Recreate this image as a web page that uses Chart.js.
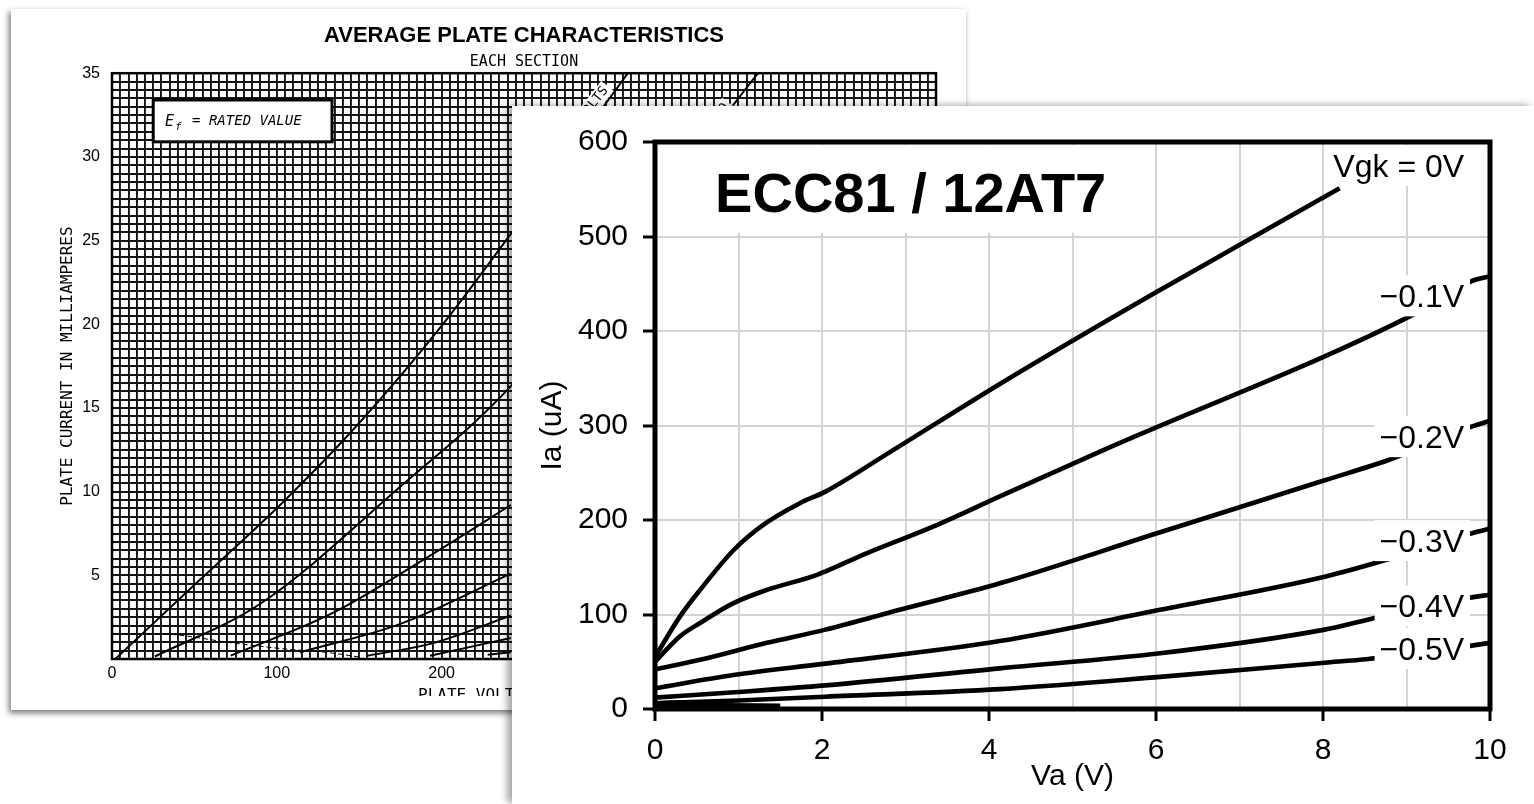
<!DOCTYPE html>
<html><head><meta charset="utf-8">
<script src="https://cdn.jsdelivr.net/npm/chart.js@4.4.1/dist/chart.umd.min.js"></script>
<style>
html,body{margin:0;padding:0;background:#fff;width:1534px;height:804px;overflow:hidden;}
#bgCard{position:absolute;left:11px;top:9px;width:955px;height:701px;background:#fff;box-shadow:-2px 3px 6px rgba(0,0,0,0.55);}
#fgCard{position:absolute;left:512px;top:106px;width:1022px;height:698px;background:#fff;box-shadow:-5px -1px 7px rgba(0,0,0,0.35);}
canvas{display:block;}
</style></head><body>
<div id="bgCard"><canvas id="bg" width="955" height="701"></canvas></div>
<div id="fgCard"><canvas id="fg" width="1022" height="698"></canvas></div>
<script>
// ---------- background datasheet: plate volts (V) vs plate current (mA) ----------
const bgTitle = 'AVERAGE PLATE CHARACTERISTICS';
const bgSubtitle = 'EACH SECTION';
const bgXTitle = 'PLATE VOLTAGE IN VOLTS';
const bgYTitle = 'PLATE CURRENT IN MILLIAMPERES';
const bgNote = '= RATED VALUE';
const bgCurveLabels = ['Ec1 = 0 VOLTS', '-1.0'];
const bgC0V = [2, 53, 104, 150, 200, 242, 313];
const bgC0I = [0, 4.7, 9.4, 14.1, 19.9, 25.4, 35];
const bgC1V = [26, 90, 175, 242, 392];
const bgC1I = [0.15, 3.3, 10.3, 16.3, 35];
const bgC2V = [72, 134, 195, 242];
const bgC2I = [0.2, 2.75, 6.3, 9.2];
const bgC3V = [114, 175, 242];
const bgC3I = [0.4, 2.1, 5.1];
const bgC4V = [155, 195, 242];
const bgC4I = [0.2, 0.95, 2.6];
const bgC5V = [193, 242];
const bgC5I = [0.2, 1.25];
const bgC6V = [228, 242];
const bgC6I = [0.25, 0.4];
const bgGcV = [2, 28, 74, 100, 134, 151];
const bgGcI = [1.5, 1.5, 0.95, 0.65, 0.35, 0.1];

// ---------- foreground: ECC81 / 12AT7, Va (V) vs Ia (uA) ----------
const fgTitle = 'ECC81 / 12AT7';
const fgLabels = ['Vgk = 0V', '\u22120.1V', '\u22120.2V', '\u22120.3V', '\u22120.4V', '\u22120.5V'];
const va0 = [0, 0.3, 0.54, 0.94, 1.3, 1.74, 2.04, 2.78, 4.13, 6, 7.04, 8.2];
const ia0 = [55, 98, 126, 168, 195, 218, 230, 270, 344, 441, 493, 551];
const va1 = [0, 0.3, 0.54, 0.94, 1.34, 1.94, 2.54, 3.33, 4.13, 5.37, 9.14, 9.76, 10];
const ia1 = [50, 77, 91, 112, 126, 142, 165, 193, 225, 274, 420, 452, 458];
const va2 = [0, 0.54, 1.34, 2.04, 2.93, 4.13, 6.05, 8.02, 8.8, 9.72, 10];
const ia2 = [42, 52, 70, 84, 105, 133, 187, 242, 264, 297, 305];
const va3 = [0, 0.94, 2.04, 4.13, 6.05, 8.02, 8.8, 9.7, 10];
const ia3 = [22, 36, 48, 72, 105, 140, 159, 184, 191];
const va4 = [0, 1, 2.04, 4.13, 6.05, 8.02, 8.56, 9.7, 10];
const ia4 = [12, 18, 25, 43, 59, 84, 95, 117, 121];
const va5 = [0, 1, 2.04, 4.13, 6.05, 8.02, 8.54, 9.7, 10];
const ia5 = [6, 9, 13, 21, 34, 49, 53, 66, 70];
const vaCut = [0, 0.4, 0.8, 1.5];
const iaCut = [3, 4, 4, 3.5];
const vaCut2 = [0, 0.3, 0.7];
const iaCut2 = [6, 7, 6];
const yTicksUA = [0, 100, 200, 300, 400, 500, 600];
const xTicksV = [0, 2, 4, 6, 8, 10];

Chart.defaults.font.family = "'Liberation Sans', Arial, sans-serif";
Chart.defaults.color = '#000';

function pts(xs, ys) { return xs.map((v, i) => ({x: v, y: ys[i]})); }

// ================= background chart =================
const bgLine = (xs, ys, w, dash) => ({
  data: pts(xs, ys), borderColor: '#000', borderWidth: w, borderDash: dash || [],
  pointRadius: 0, cubicInterpolationMode: 'monotone', fill: false
});
const MONO = "'DejaVu Sans Mono', monospace";

const bgDecor = {
  id: 'bgDecor',
  afterDatasetsDraw(chart) {
    const {ctx, chartArea: a, scales: {x, y}} = chart;
    ctx.save();
    ctx.strokeStyle = '#000'; ctx.lineWidth = 2.5;
    ctx.strokeRect(a.left, a.top, a.right - a.left, a.bottom - a.top);
    const x0 = x.getPixelForValue(25), x1 = x.getPixelForValue(133.5);
    const y0 = y.getPixelForValue(33.4), y1 = y.getPixelForValue(30.9);
    ctx.fillStyle = '#fff'; ctx.fillRect(x0, y0, x1 - x0, y1 - y0);
    ctx.lineWidth = 3; ctx.strokeRect(x0, y0, x1 - x0, y1 - y0);
    ctx.fillStyle = '#000';
    ctx.font = 'italic 15px ' + MONO;
    ctx.textBaseline = 'alphabetic'; ctx.textAlign = 'left';
    const tx = x.getPixelForValue(32.2), ty = y.getPixelForValue(31.85);
    ctx.fillText('E', tx, ty);
    ctx.font = 'italic 11px ' + MONO;
    ctx.fillText('f', tx + 10, ty + 4);
    ctx.font = 'italic 14px ' + MONO;
    ctx.fillText(bgNote, tx + 27, ty - 1);
    const anchors = [[299.5, 34.1], [373, 33.1]];
    ctx.font = '13px ' + MONO;
    anchors.forEach((p, i) => {
      ctx.save();
      ctx.translate(x.getPixelForValue(p[0]), y.getPixelForValue(p[1]));
      ctx.rotate(-52 * Math.PI / 180);
      const w = ctx.measureText(bgCurveLabels[i]).width;
      ctx.fillStyle = '#fff'; ctx.fillRect(-w - 3, -8, w + 6, 16);
      ctx.fillStyle = '#000'; ctx.textAlign = 'right'; ctx.textBaseline = 'middle';
      ctx.fillText(bgCurveLabels[i], 0, 0);
      ctx.restore();
    });
    ctx.restore();
  },
  afterDraw(chart) {
    const {ctx, width, height} = chart;
    ctx.save();
    ctx.fillStyle = '#fff';
    ctx.fillRect(0, 687, width, height - 687);
    ctx.restore();
  }
};

new Chart(document.getElementById('bg'), {
  type: 'line',
  data: { datasets: [
    bgLine(bgC0V, bgC0I, 2), bgLine(bgC1V, bgC1I, 2), bgLine(bgC2V, bgC2I, 2),
    bgLine(bgC3V, bgC3I, 2), bgLine(bgC4V, bgC4I, 2), bgLine(bgC5V, bgC5I, 2),
    bgLine(bgC6V, bgC6I, 2), bgLine(bgGcV, bgGcI, 1, [5, 3])
  ]},
  options: {
    responsive: false, animation: false, events: [],
    layout: { padding: { top: 0, right: 30, left: 0, bottom: 0 } },
    plugins: {
      legend: { display: false }, tooltip: { enabled: false },
      title: { display: true, text: bgTitle, fullSize: false, color: '#000',
        font: { family: "'Liberation Sans', Arial, sans-serif", size: 22, weight: 'bold' },
        padding: { top: 13.8, bottom: 0 } },
      subtitle: { display: true, text: bgSubtitle, fullSize: false, color: '#000',
        font: { family: MONO, size: 15 }, padding: { top: 4.4, bottom: 1.6 } }
    },
    scales: {
      x: { type: 'linear', min: 0, max: 500,
        ticks: { stepSize: 5, autoSkip: false, maxRotation: 0, padding: 5,
          font: { size: 16 }, callback: v => (v % 100 === 0 ? String(v) : '') },
        grid: { color: '#141414', lineWidth: 1.9, drawTicks: false },
        border: { display: false },
        title: { display: true, text: bgXTitle, font: { family: MONO, size: 16 }, padding: { top: 0, bottom: 5 } },
        afterFit: s => { s.height = 51; } },
      y: { type: 'linear', min: 0, max: 35,
        ticks: { stepSize: 0.5, autoSkip: false, padding: 12, font: { size: 16 },
          callback: v => (v % 5 === 0 && v !== 0 ? String(v) : '') },
        grid: { color: '#141414', lineWidth: 1.9, drawTicks: false },
        border: { display: false },
        title: { display: true, text: bgYTitle, font: { family: MONO, size: 16 }, padding: { top: 47, bottom: 0 } },
        afterFit: s => { s.width = 101; } }
    }
  },
  plugins: [bgDecor]
});

// ================= foreground chart =================
const fgLine = (xs, ys) => ({
  data: pts(xs, ys), borderColor: '#000', borderWidth: 4.6,
  pointRadius: 0, cubicInterpolationMode: 'monotone', fill: false
});
const labelIa = [563, 425, 276, 166, 97, 52];

const fgDecor = {
  id: 'fgDecor',
  beforeDatasetsDraw(chart) {
    const {ctx, chartArea: a, scales: {x, y}} = chart;
    ctx.save();
    const bx = x.getPixelForValue(5.5), by = y.getPixelForValue(504);
    ctx.fillStyle = '#fff';
    ctx.fillRect(a.left + 3, a.top + 3, bx - a.left - 3, by - a.top - 3);
    ctx.fillStyle = '#000';
    ctx.font = "bold 56px 'Liberation Sans', Arial, sans-serif";
    ctx.textAlign = 'left'; ctx.textBaseline = 'alphabetic';
    ctx.fillText(fgTitle, x.getPixelForValue(0.72), y.getPixelForValue(526));
    ctx.restore();
  },
  afterDatasetsDraw(chart) {
    const {ctx, chartArea: a, scales: {x, y}} = chart;
    ctx.save();
    ctx.font = "32px 'Liberation Sans', Arial, sans-serif";
    ctx.textAlign = 'right'; ctx.textBaseline = 'alphabetic';
    const rx = x.getPixelForValue(9.69);
    fgLabels.forEach((t, i) => {
      const by = y.getPixelForValue(labelIa[i]);
      const w = ctx.measureText(t).width;
      const left = rx - w - 5;
      ctx.fillStyle = '#fff';
      ctx.fillRect(left, by - 32, (a.right - 20) - left, 41);
      ctx.fillStyle = '#000';
      ctx.fillText(t, rx, by);
    });
    ctx.strokeStyle = '#000'; ctx.lineWidth = 5;
    ctx.strokeRect(a.left, a.top, a.right - a.left, a.bottom - a.top);
    ctx.restore();
  }
};

new Chart(document.getElementById('fg'), {
  type: 'line',
  data: { datasets: [
    fgLine(va0, ia0), fgLine(va1, ia1), fgLine(va2, ia2),
    fgLine(va3, ia3), fgLine(va4, ia4), fgLine(va5, ia5),
    fgLine(vaCut, iaCut), fgLine(vaCut2, iaCut2)
  ]},
  options: {
    responsive: false, animation: false, events: [],
    layout: { padding: { top: 36, right: 44, left: 0, bottom: 0 } },
    plugins: { legend: { display: false }, tooltip: { enabled: false } },
    scales: {
      x: { type: 'linear', min: 0, max: 10,
        ticks: { stepSize: 1, autoSkip: false, maxRotation: 0, padding: 12, font: { size: 30 },
          callback: v => (xTicksV.includes(v) ? String(v) : '') },
        grid: { color: '#d3d3d3', lineWidth: 2, tickLength: 12, tickWidth: 3,
          tickColor: c => (c.tick && xTicksV.includes(c.tick.value) ? '#000' : 'rgba(0,0,0,0)') },
        border: { display: false },
        title: { display: true, text: 'Va (V)', font: { size: 30 }, padding: { top: 0, bottom: 9 } },
        afterFit: s => { s.height = 95; } },
      y: { type: 'linear', min: 0, max: 600,
        ticks: { stepSize: 100, autoSkip: false, padding: 15, font: { size: 30 },
          callback: v => (yTicksUA.includes(v) ? String(v) : '') },
        grid: { color: '#d3d3d3', lineWidth: 2, tickLength: 12, tickWidth: 3, tickColor: '#000' },
        border: { display: false },
        title: { display: true, text: 'Ia (uA)', font: { size: 30 }, padding: { top: 23, bottom: 0 } },
        afterFit: s => { s.width = 143; } }
    }
  },
  plugins: [fgDecor]
});
</script>
</body></html>
